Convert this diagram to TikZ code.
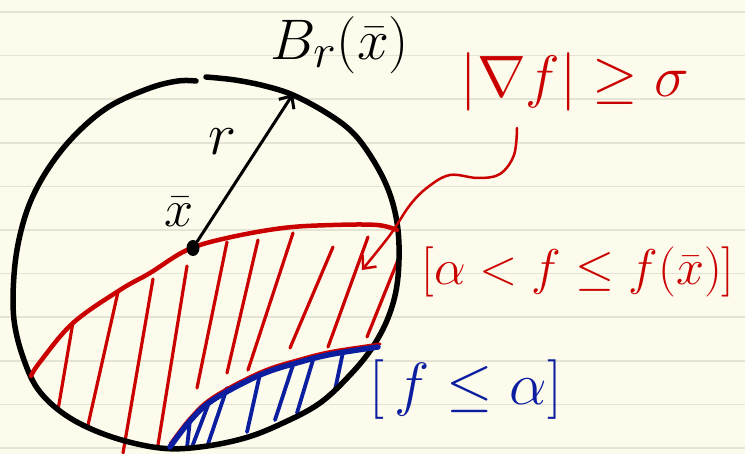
\documentclass[tikz,border=0pt]{standalone}
\usetikzlibrary{arrows.meta,shapes.geometric}

\definecolor{paper}{RGB}{253,251,236}
\definecolor{ruling}{RGB}{229,227,212}
\definecolor{inkred}{RGB}{202,0,0}
\definecolor{inkblue}{RGB}{12,30,160}

\begin{document}
\begin{tikzpicture}[x=1pt,y=-1pt,line cap=round,line join=round,>={Straight Barb[length=10pt,width=18pt]},
        ruled line/.style={draw=ruling,line width=1.5pt},
        ball line/.style={draw=black,line width=5.5pt},
        red line/.style={draw=inkred,line width=4.5pt},
        red hatch/.style={draw=inkred,line width=3.2pt},
        blue line/.style={draw=inkblue,line width=5.5pt},
        blue hatch/.style={draw=inkblue,line width=3.8pt},
        dot/.style={ellipse,fill=black,inner sep=0pt,minimum width=13pt,minimum height=16pt},
        big font/.style={font=\Huge,scale=2.3,inner sep=0pt},
        red label/.style={text=inkred,font=\Huge,inner sep=0pt},
        blue label/.style={text=inkblue,font=\Huge,scale=2.4,inner sep=0pt}]

            % Paper

            \fill[paper] (0,0) rectangle (745,454);
            \useasboundingbox (0,0) rectangle (745,454);
            \foreach \k in {0,...,10} {
                \draw[ruled line] ({0},{12+43.6*\k}) -- ({745},{12+43.6*\k});
            }

            % Hatching

            \foreach \xa/\ya/\xb/\yb in {73/322/58/410, 118/292/88/425, 153/279/123/453,
                    187/266/158/445, 227/242/197/388, 258/240/227/373, 293/233/248/370,
                    333/247/290/348, 368/237/328/347, 398/260/367/337} {
                \draw[red hatch] (\xa,\ya) -- (\xb,\yb);
            }
            \foreach \xa/\ya/\xb/\yb in {190/420/187/448, 210/400/192/447, 227/388/207/447,
                    260/374/247/432, 293/365/275/420, 313/360/297/413, 343/352/335/390} {
                \draw[blue hatch] (\xa,\ya) -- (\xb,\yb);
            }

            % Ball

            \draw[ball line] plot[smooth,tension=0.6] coordinates {
                (206,77) (235,80) (265,86) (293,95) (325,112) (350,130) (368,152)
                (385,182) (395,212) (399,245) (397,285) (388,318) (372,348) (350,375)
                (320,403) (283,423) (245,438) (200,447) (160,448) (112,437) (70,418)
                (40,392) (24,360) (14,320) (14,275) (20,235) (32,198) (52,163)
                (78,132) (110,106) (150,88) (178,81) (196,81)};

            % Level curves

            \draw[red line] plot[smooth,tension=0.6] coordinates {
                (31,376) (40,362) (73,323) (120,290) (150,273) (187,250) (227,238)
                (283,228) (333,225) (377,225) (397,230)};
            \draw[inkred,line width=3pt] plot[smooth,tension=0.6] coordinates {
                (170,444) (190,418) (213,397) (260,372) (300,359) (333,351) (380,344)};
            \draw[blue line] plot[smooth,tension=0.6] coordinates {
                (170,447) (190,421) (213,400) (260,375) (300,362) (333,354) (378,347)};

            % Centre and radius

            \node[dot] (xbar) at (193,248) {};
            \coordinate (rim) at (293,94);
            \draw[->,line width=3pt] (xbar) -- (rim);

            % Labels

            \node[big font] (ball) at (340,45) {$B_r(\bar x)$};
            \node[font=\Huge,scale=2.4,inner sep=0pt] (rlab) at (222,142) {$r$};
            \node[font=\Huge,scale=2.1,inner sep=0pt] (xlab) at (179,212) {$\bar x$};
            \node[red label,scale=2.35] (grad) at (575,82) {$|\nabla f|\geq\sigma$};
            \node[red label,scale=2.02] (mid) at (578,272) {$[\alpha<f\leq f(\bar x)]$};
            \node[blue label] (low) at (466,390) {$[\,f\leq\alpha]$};

            % Pointer

            \coordinate (hook) at (517,128);
            \coordinate (tip) at (362,270);
            \draw[->,draw=inkred,line width=2.5pt] plot[smooth,tension=0.6] coordinates {
                (hook) (514,155) (500,174) (478,178) (450,175) (428,187) (410,205)
                (390,235) (tip)};
        \end{tikzpicture}
\end{document}
